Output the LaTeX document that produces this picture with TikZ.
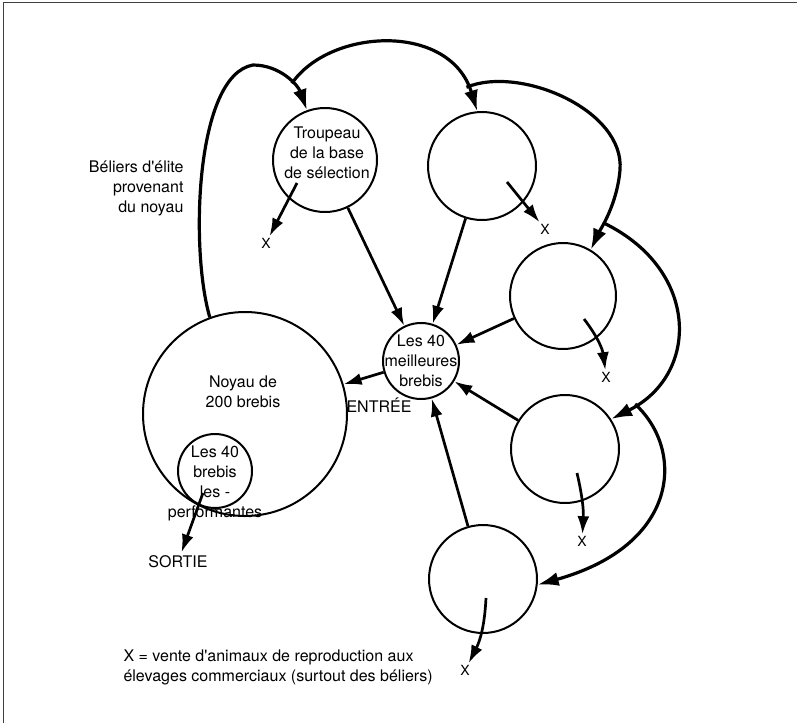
\documentclass[tikz,border=0pt]{standalone}
\usepackage{fontspec}
\setmainfont{TeX Gyre Heros}[Ligatures=TeXOff]
\usetikzlibrary{arrows.meta}

\begin{document}
\begin{tikzpicture}[x=1pt, y=-1pt,
    cercle/.style={draw, circle, line width=2pt, inner sep=0pt, minimum size=#1},
    texte/.style={align=center, font=\fontsize{16}{20}\selectfont},
    croix/.style={inner sep=1.5pt, font=\fontsize{14}{14}\selectfont},
    fleche/.style={line width=2.7pt, -{Latex[length=18pt, width=12pt]}},
    courbe/.style={line width=3.2pt, -{Latex[length=21pt, width=14pt]}}]
    \useasboundingbox (0,0) rectangle (797,723);
    \draw[line width=1.6pt, black!75] (3.5,723) -- (3.5,2.5) -- (797,2.5); % 边框

    % 圆
    \node[cercle=204pt] (noyau) at (245,414) {}; % 核心群
    \node[texte] at (243,392) {Noyau de\\200 brebis};
    \node[cercle=74pt] (moins) at (215,471) {}; % 淘汰的母羊
    \node[texte] at (215,483) {Les 40\\brebis\\les -\\performantes};
    \node[cercle=104pt] (tr1) at (325,160) {};
    \node[texte] at (327,153) {Troupeau\\de la base\\de sélection};
    \node[cercle=108pt] (tr2) at (482,166) {};
    \node[cercle=106pt] (tr3) at (563,296) {};
    \node[cercle=108pt] (tr4) at (565,449) {};
    \node[cercle=108pt] (tr5) at (483,579) {};
    \node[cercle=76pt] (meill) at (421,361) {}; % 最好的母羊
    \node[texte] at (421,361) {Les 40\\meilleures\\brebis};

    % 文字
    \node[texte, align=right, anchor=east] at (187,188) {Béliers d'élite\\provenant\\du noyau};
    \node[texte] (entree) at (379,405) {ENTRÉE};
    \node[texte] (sortie) at (178,562) {SORTIE};
    \node[texte, align=left, anchor=west] at (120,667) {X = vente d'animaux de reproduction aux\\élevages commerciaux (surtout des béliers)};
    \node[croix] (x1) at (266,243) {X};
    \node[croix] (x2) at (545,229) {X};
    \node[croix] (x3) at (606,377) {X};
    \node[croix] (x4) at (582,541) {X};
    \node[croix] (x5) at (465,670) {X};

    % 直箭头
    \draw[fleche] (tr1) -- (meill);
    \draw[fleche] (tr2) -- (meill);
    \draw[fleche] (tr3) -- (meill);
    \draw[fleche] (tr4) -- (meill);
    \draw[fleche] (tr5) -- (meill);
    \draw[fleche] (meill) -- (noyau); % 进入
    \coordinate (s0) at (203,493);
    \draw[fleche] (s0) -- (sortie); % 离开

    % 出售
    \coordinate (d1) at (297,183);
    \coordinate (d2) at (507,182);
    \coordinate (d3) at (584,319);
    \coordinate (d4) at (577,473);
    \coordinate (d5) at (486,598);
    \draw[fleche] (d1) -- (x1);
    \draw[fleche] (d2) -- (x2);
    \draw[fleche] (d3) to[bend left=15] (x3);
    \draw[fleche] (d4) to[bend left=8] (x4);
    \draw[fleche] (d5) to[bend left=12] (x5);

    % 公羊的流向
    \draw[courbe] (noyau.110) .. controls (190,250) and (195,75) .. (253,65)
        .. controls (280,65) and (298,85) .. coordinate[pos=0.6] (j1) (tr1.110);
    \draw[courbe] (j1) .. controls (330,28) and (450,22) .. coordinate[pos=0.9] (j2) (tr2.95);
    \draw[courbe] (j2) .. controls (520,65) and (625,110) .. (620,170)
        .. controls (617,205) and (600,230) .. coordinate[pos=0.6] (j3) (tr3.59);
    \draw[courbe] (j3) .. controls (700,270) and (700,375) .. coordinate[pos=0.9] (j4) (tr4.33);
    \draw[courbe] (j4) .. controls (685,450) and (680,545) .. (tr5.354);
\end{tikzpicture}
\end{document}
